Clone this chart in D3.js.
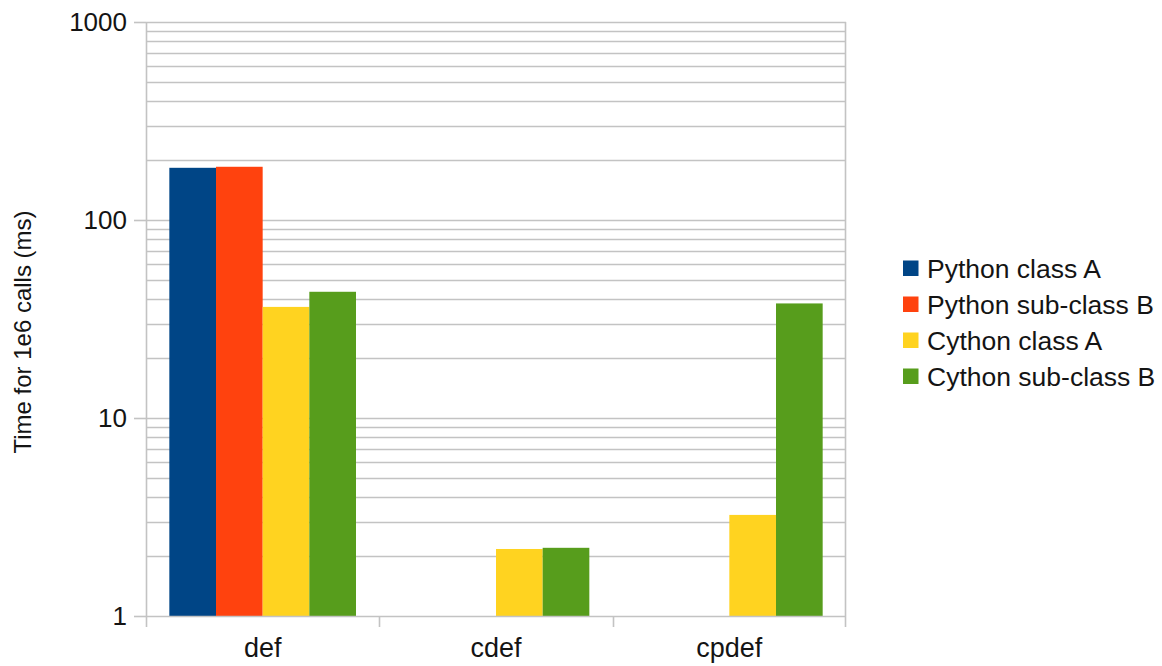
<!DOCTYPE html>
<html>
<head>
<meta charset="utf-8">
<script src="https://cdn.jsdelivr.net/npm/d3@7"></script>
<style>
  html, body { margin: 0; padding: 0; background: #ffffff; }
  svg { display: block; font-family: "Liberation Sans", Arial, sans-serif; }
</style>
</head>
<body>
<svg id="chart" width="1162" height="666"></svg>
<script>
// Benchmark: time for 1e6 calls (ms), log scale
const categories = ["def", "cdef", "cpdef"];
const seriesNames = ["Python class A", "Python sub-class B", "Cython class A", "Cython sub-class B"];
const pythonClassA    = [183.5, null, null];
const pythonSubClassB = [185.7, null, null];
const cythonClassA    = [36.4, 2.18, 3.24];
const cythonSubClassB = [43.4, 2.21, 37.9];
const yTickValues = [1, 10, 100, 1000];
const yTickLabels = ["1", "10", "100", "1000"];
const seriesColors = ["#004586", "#ff420e", "#ffd320", "#579d1c"];

const seriesValues = [pythonClassA, pythonSubClassB, cythonClassA, cythonSubClassB];

const svg = d3.select("#chart");
const plot = { left: 146, right: 846, top: 22, bottom: 616 };
const gridColor = "#c3c3c3";
const textColor = "#141414";

const x = d3.scaleBand()
  .domain(categories)
  .range([plot.left, plot.right])
  .paddingInner(0.2)
  .paddingOuter(0.1);

const xSeries = d3.scaleBand()
  .domain(seriesNames)
  .range([0, x.bandwidth()]);

const y = d3.scaleLog()
  .domain([1, 1000])
  .range([plot.bottom, plot.top]);

// Grid lines: every decade plus 2..9 minor steps
const gridValues = [];
for (let d = 1; d < 1000; d *= 10) {
  for (let k = 1; k <= 9; k++) gridValues.push(d * k);
}
gridValues.push(1000);

svg.append("g")
  .selectAll("line")
  .data(gridValues.filter(v => v > 1))
  .join("line")
  .attr("x1", plot.left)
  .attr("x2", plot.right)
  .attr("y1", d => Math.round(y(d)) + 0.5)
  .attr("y2", d => Math.round(y(d)) + 0.5)
  .attr("stroke", gridColor)
  .attr("stroke-width", 1.6);

// Bars
const groups = svg.append("g")
  .selectAll("g")
  .data(seriesNames.map((name, i) => ({ name, color: seriesColors[i], values: seriesValues[i] })))
  .join("g")
  .attr("fill", d => d.color);

groups.selectAll("rect")
  .data(d => categories.map((c, j) => ({ series: d.name, cat: c, value: d.values[j] })).filter(e => e.value != null))
  .join("rect")
  .attr("x", d => x(d.cat) + xSeries(d.series))
  .attr("width", xSeries.bandwidth())
  .attr("y", d => y(d.value))
  .attr("height", d => y(1) - y(d.value));

// Y axis
const yAxis = d3.axisLeft(y)
  .tickValues(yTickValues)
  .tickFormat((d, i) => yTickLabels[i])
  .tickSize(12)
  .tickPadding(7);

const yG = svg.append("g")
  .attr("transform", `translate(${plot.left},0)`)
  .call(yAxis);
yG.select(".domain").remove();
yG.selectAll(".tick line").attr("stroke", gridColor).attr("stroke-width", 1.6);
yG.selectAll(".tick text")
  .attr("fill", textColor)
  .attr("font-size", 26)
  .attr("font-family", "Liberation Sans, Arial, sans-serif");

// Vertical frame lines at the category boundaries
const boundaries = [plot.left, ...categories.slice(1).map(c => x(c) - x.step() * x.paddingInner() / 2), plot.right];
svg.append("line")
  .attr("x1", plot.left + 0.5).attr("x2", plot.left + 0.5)
  .attr("y1", plot.top).attr("y2", plot.bottom + 11)
  .attr("stroke", gridColor).attr("stroke-width", 1.6);
svg.append("line")
  .attr("x1", plot.right - 0.5).attr("x2", plot.right - 0.5)
  .attr("y1", plot.top).attr("y2", plot.bottom + 11)
  .attr("stroke", gridColor).attr("stroke-width", 1.6);
svg.append("line")
  .attr("x1", plot.left).attr("x2", plot.right)
  .attr("y1", plot.bottom + 0.5).attr("y2", plot.bottom + 0.5)
  .attr("stroke", gridColor).attr("stroke-width", 1.6);
svg.append("g")
  .selectAll("line")
  .data(boundaries.slice(1, -1))
  .join("line")
  .attr("x1", d => Math.round(d) + 0.5).attr("x2", d => Math.round(d) + 0.5)
  .attr("y1", plot.bottom).attr("y2", plot.bottom + 11)
  .attr("stroke", gridColor).attr("stroke-width", 1.6);

// Category labels
svg.append("g")
  .selectAll("text")
  .data(categories)
  .join("text")
  .attr("x", d => x(d) + x.bandwidth() / 2)
  .attr("y", 657)
  .attr("text-anchor", "middle")
  .attr("fill", textColor)
  .attr("font-size", 27)
  .text(d => d);

// Y axis title
svg.append("text")
  .attr("transform", "translate(31,332) rotate(-90)")
  .attr("text-anchor", "middle")
  .attr("fill", textColor)
  .attr("font-size", 24)
  .text("Time for 1e6 calls (ms)");

// Legend
const legend = svg.append("g")
  .selectAll("g")
  .data(seriesNames)
  .join("g")
  .attr("transform", (d, i) => `translate(903,${268 + i * 36})`);
legend.append("rect")
  .attr("x", 0).attr("y", -7.5)
  .attr("width", 15.5).attr("height", 15.5)
  .attr("fill", (d, i) => seriesColors[i]);
legend.append("text")
  .attr("x", 24)
  .attr("y", 9.5)
  .attr("fill", textColor)
  .attr("font-size", 26.5)
  .text(d => d);
</script>
</body>
</html>
